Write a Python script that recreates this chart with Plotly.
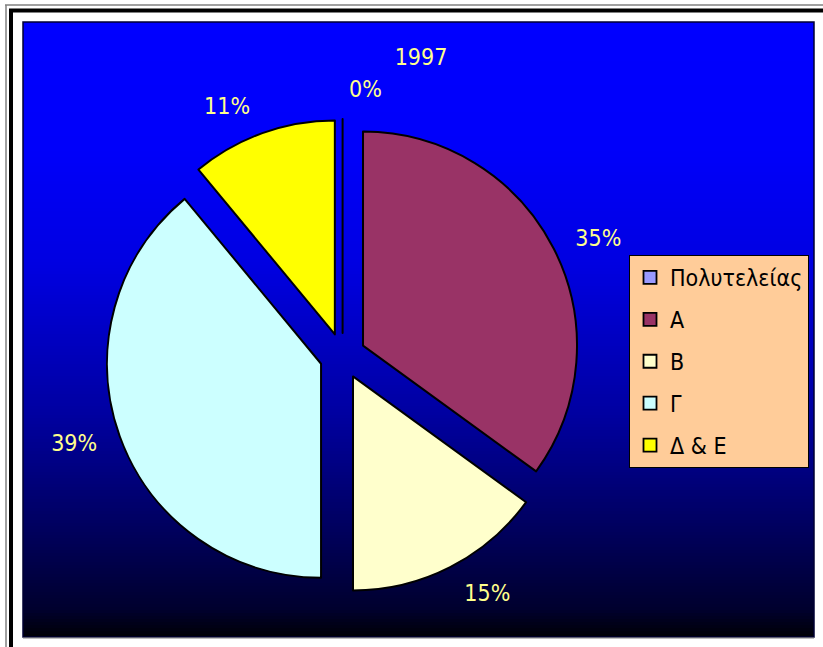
import plotly.graph_objects as go

# ---- data ----
labels = ["Πολυτελείας", "Α", "Β", "Γ", "Δ & Ε"]
values = [0, 35, 15, 39, 11]
colors = ["#9999FF", "#993366", "#FFFFCC", "#CCFFFF", "#FFFF00"]
title_text = "1997"

W, H = 823, 647
FONT = "DejaVu Sans Condensed, DejaVu Sans, sans-serif"
TEXT_COLOR = "#FFFF8C"


def px(x):
    return x / W


def py(y):
    return 1 - y / H


def pie_domain(cx, cy, r, pull):
    half = r * (1 + pull)
    return dict(x=[px(cx - half), px(cx + half)], y=[py(cy + half), py(cy - half)])


CX, CY, R, PULL_PX = 342.6, 356.0, 214.0, 22.9

fig = go.Figure()

# main pie (slices)
fig.add_trace(go.Pie(
    labels=labels,
    values=values,
    sort=False,
    direction="clockwise",
    rotation=0,
    pull=[PULL_PX / R] * len(values),
    marker=dict(colors=colors, line=dict(color="black", width=2)),
    textinfo="none",
    showlegend=False,
    hoverinfo="label+percent",
    domain=pie_domain(CX, CY, R, PULL_PX / R),
))

# same data, transparent, slightly larger: carries the outside percentage labels
R2 = R + 17
fig.add_trace(go.Pie(
    labels=labels,
    values=values,
    sort=False,
    direction="clockwise",
    rotation=0,
    pull=[PULL_PX / R2] * len(values),
    marker=dict(colors=["rgba(0,0,0,0)"] * len(values), line=dict(width=0)),
    textinfo="percent",
    textposition="outside",
    texttemplate="%{percent:.0%}",
    textfont=dict(family=FONT, size=23, color=TEXT_COLOR),
    showlegend=False,
    hoverinfo="skip",
    automargin=False,
    domain=pie_domain(CX, CY, R2, PULL_PX / R2),
))

# legend entries (one per category)
for i, (lab, col) in enumerate(zip(labels, colors)):
    fig.add_trace(go.Scatter(
        x=[None], y=[None], mode="markers", name=lab,
        legendgroup=f"g{i}",
        marker=dict(symbol="square", size=13, color=col,
                    line=dict(color="black", width=1.8)),
    ))

# background gradient (style only)
stops = [(22, 255), (150, 250), (265, 225), (415, 160), (535, 90), (610, 45), (637, 5)]


def blue_at(y):
    for (y0, b0), (y1, b1) in zip(stops[:-1], stops[1:]):
        if y0 <= y <= y1:
            return b0 + (b1 - b0) * (y - y0) / (y1 - y0)
    return stops[-1][1]


shapes = []
top, bottom, left, right = 22, 637, 23, 814
step = 3
y = top
while y < bottom:
    y2 = min(y + step, bottom)
    b = int(round(blue_at((y + y2) / 2)))
    shapes.append(dict(type="rect", xref="paper", yref="paper", layer="below",
                       x0=px(left), x1=px(right), y0=py(min(y2 + 1, bottom)), y1=py(y),
                       fillcolor=f"rgb(0,0,{b})", line=dict(width=0)))
    y = y2
# plot area border
shapes.append(dict(type="rect", xref="paper", yref="paper", layer="below",
                   x0=px(left), x1=px(right), y0=py(bottom), y1=py(top),
                   line=dict(color="#000033", width=1.5), fillcolor="rgba(0,0,0,0)"))
# outer frame lines (top and left)
shapes.append(dict(type="line", xref="paper", yref="paper", x0=px(5), x1=1, y0=py(5), y1=py(5),
                   line=dict(color="#808080", width=1.5)))
shapes.append(dict(type="line", xref="paper", yref="paper", x0=px(6), x1=px(6), y0=py(5), y1=0,
                   line=dict(color="#808080", width=1.5)))
shapes.append(dict(type="line", xref="paper", yref="paper", x0=px(9), x1=1, y0=py(10.5), y1=py(10.5),
                   line=dict(color="black", width=4)))
shapes.append(dict(type="line", xref="paper", yref="paper", x0=px(11), x1=px(11), y0=py(9), y1=0,
                   line=dict(color="black", width=4)))
shapes.append(dict(type="line", xref="paper", yref="paper", x0=px(left), x1=px(right), y0=py(638), y1=py(638),
                   line=dict(color="#808080", width=1)))

fig.update_layout(
    width=W, height=H,
    margin=dict(l=0, r=0, t=0, b=0, autoexpand=False),
    paper_bgcolor="white",
    plot_bgcolor="rgba(0,0,0,0)",
    xaxis=dict(visible=False),
    yaxis=dict(visible=False),
    shapes=shapes,
    title=dict(text=title_text, x=px(421), y=py(57), xanchor="center", yanchor="middle",
               font=dict(family=FONT, size=23, color=TEXT_COLOR)),
    legend=dict(
        x=px(629), y=py(255), xanchor="left", yanchor="top",
        bgcolor="#FFCC99", bordercolor="black", borderwidth=1,
        font=dict(family=FONT, size=23, color="black"),
        traceorder="grouped", tracegroupgap=9,
    ),
    showlegend=True,
)

fig.write_html("out.html", config={"displayModeBar": False},
               post_script="document.body.style.margin='0';")
